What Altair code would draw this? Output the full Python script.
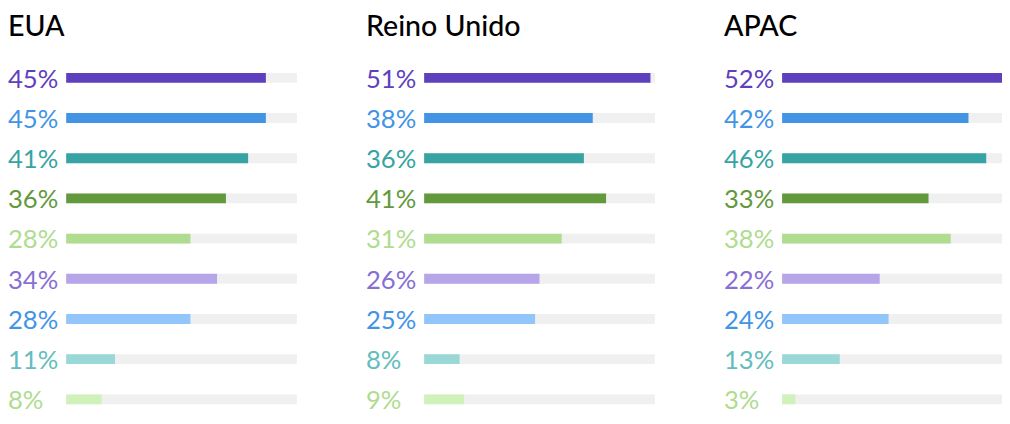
import altair as alt
import pandas as pd

regions = ["EUA", "Reino Unido", "APAC"]
eua_values = [45, 45, 41, 36, 28, 34, 28, 11, 8]
uk_values = [51, 38, 36, 41, 31, 26, 25, 8, 9]
apac_values = [52, 42, 46, 33, 38, 22, 24, 13, 3]
bar_colors = ["#5E40BE", "#4394E5", "#37A3A3", "#63993D", "#AFDC8F",
              "#B6A6E9", "#92C5F9", "#9AD8D8", "#D1F1BB"]
label_colors = ["#5E40BE", "#4394E5", "#37A3A3", "#63993D", "#AFDC8F",
                "#876FD4", "#4394E5", "#63BDBD", "#AFDC8F"]
track_max = 52

FONT = "Lato"
PANEL_W = 234
ROW_STEP = 40.75


def panel(title, values):
    n = len(values)
    df = pd.DataFrame({
        "row": list(range(n)),
        "value": values,
        "label": [f"{v}%" for v in values],
        "track": [track_max] * n,
        "bar_color": bar_colors,
        "label_color": label_colors,
    })
    xscale = alt.Scale(domain=[0, track_max], nice=False, zero=True)
    yenc = alt.Y("row:O", scale=alt.Scale(type="point", padding=0), axis=None)
    base = alt.Chart(df).encode(y=yenc)
    track = base.mark_rule(strokeWidth=10, color="#F0F0F0").encode(
        x=alt.X("track:Q", scale=xscale, axis=None), x2=alt.datum(0))
    bars = base.mark_rule(strokeWidth=10).encode(
        x=alt.X("value:Q", scale=xscale, axis=None), x2=alt.datum(0),
        color=alt.Color("bar_color:N", scale=None))
    labels = base.mark_text(align="left", baseline="alphabetic", dx=-59, dy=10,
                            fontSize=26, font=FONT).encode(
        x=alt.datum(0), text="label:N",
        color=alt.Color("label_color:N", scale=None))
    return alt.layer(track, bars, labels).properties(
        width=PANEL_W, height=ROW_STEP * (n - 1),
        title=alt.TitleParams(text=title, anchor="start", frame="bounds",
                              fontSize=29, font=FONT, fontWeight=500,
                              color="#000000", offset=25))


chart = alt.hconcat(
    panel(regions[0], eua_values),
    panel(regions[1], uk_values),
    panel(regions[2], apac_values),
    spacing=65,
).properties(
    padding={"left": 0, "top": 3, "right": -16, "bottom": -6}
).configure_view(stroke=None)

chart.save("out.html", embed_options={"renderer": "svg", "actions": False})
